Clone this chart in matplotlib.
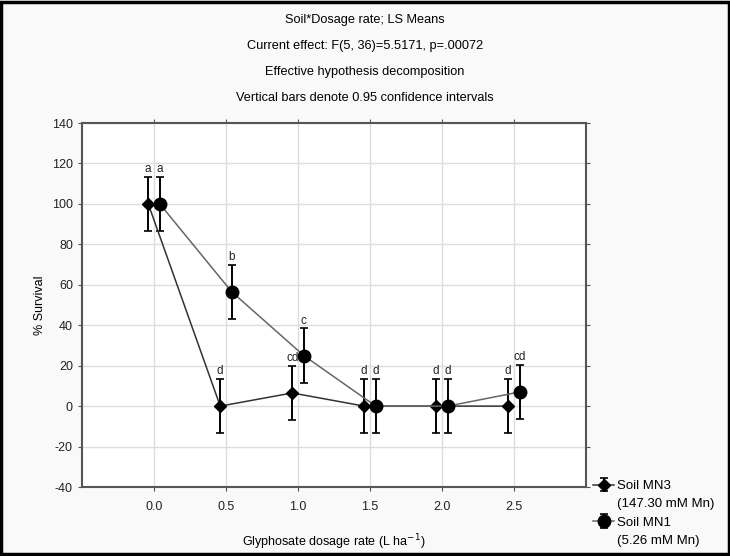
import numpy as np
import matplotlib.pyplot as plt
from matplotlib.patches import Rectangle
from matplotlib.lines import Line2D

plt.rcParams['font.family'] = ['Liberation Sans', 'DejaVu Sans']
plt.rcParams['axes.unicode_minus'] = False

doses = [0.0, 0.5, 1.0, 1.5, 2.0, 2.5]
mn3_mean = [100, 0, 6.5, 0, 0, 0]
mn3_ci = [13.5, 13.5, 13.5, 13.5, 13.5, 13.5]
mn3_letters = ['a', 'd', 'cd', 'd', 'd', 'd']
mn1_mean = [100, 56.5, 25, 0, 0, 7]
mn1_ci = [13.5, 13.5, 13.5, 13.5, 13.5, 13.5]
mn1_letters = ['a', 'b', 'c', 'd', 'd', 'cd']
xticks = [0.0, 0.5, 1.0, 1.5, 2.0, 2.5]

titles = ["Soil*Dosage rate; LS Means",
          "Current effect: F(5, 36)=5.5171, p=.00072",
          "Effective hypothesis decomposition",
          "Vertical bars denote 0.95 confidence intervals"]

fig = plt.figure(figsize=(7.3, 5.56), dpi=100, facecolor='#f9f9f9')
ax = fig.add_axes([82 / 730, 1 - 487 / 556, (586 - 82) / 730, (487 - 123) / 556])
ax.set_facecolor('white')

off = 0.04
x3 = np.array(doses) - off
x1 = np.array(doses) + off

h3 = ax.errorbar(x3, mn3_mean, yerr=mn3_ci, fmt='-D', color='#333333', mfc='black', mec='black',
                 ecolor='black', ms=6.5, lw=1.1, elinewidth=1.4, capsize=3, capthick=1.2, zorder=3)
h1 = ax.errorbar(x1, mn1_mean, yerr=mn1_ci, fmt='-o', color='#666666', mfc='black', mec='black',
                 ecolor='black', ms=9, lw=1.1, elinewidth=1.4, capsize=3, capthick=1.2, zorder=3)

for xs, m, c, lab in [(x3, mn3_mean, mn3_ci, mn3_letters), (x1, mn1_mean, mn1_ci, mn1_letters)]:
    for xi, mi, ci, t in zip(xs, m, c, lab):
        ax.text(xi, mi + ci + 0.8, t, ha='center', va='bottom', fontsize=8.5, color='#222222')

ax.set_xlim(-0.5, 3.0)
ax.set_ylim(-40, 140)
ax.set_xticks(xticks)
ax.set_xticklabels([f"{v:.1f}" for v in xticks])
ax.set_yticks(np.arange(-40, 141, 20))
ax.grid(True, color='#dddddd', lw=1)
ax.set_axisbelow(True)
for s in ax.spines.values():
    s.set_color('#555555')
    s.set_linewidth(1.5)
ax.tick_params(labelsize=9, colors='#222222', length=3, color='#555555')
ax.tick_params(axis='x', pad=7)
ax.tick_params(top=True, right=True, which='both', direction='out')

ax.set_ylabel('% Survival', fontsize=9)
ax.set_xlabel('Glyphosate dosage rate (L ha$^{-1}$)', fontsize=9, labelpad=14)

for i, t in enumerate(titles):
    fig.text(0.5, 1 - (20 + 26 * i) / 556, t, ha='center', va='center', fontsize=9.2)

blank = Line2D([], [], linestyle='none')
leg = fig.legend(handles=[h3, blank, h1, blank],
                 labels=["Soil MN3", "(147.30 mM Mn)", "Soil MN1", "(5.26 mM Mn)"],
                 loc='lower left', bbox_to_anchor=(588 / 730, 4 / 556),
                 frameon=False, fontsize=9.5, handlelength=1.6, handletextpad=0.2,
                 borderaxespad=0, labelspacing=0.45)

fig.patches.append(Rectangle((0.002, 0.003), 0.996, 0.994, transform=fig.transFigure,
                             fill=False, edgecolor='black', lw=2.5))

fig.savefig('out.png', dpi=100, facecolor=fig.get_facecolor())
